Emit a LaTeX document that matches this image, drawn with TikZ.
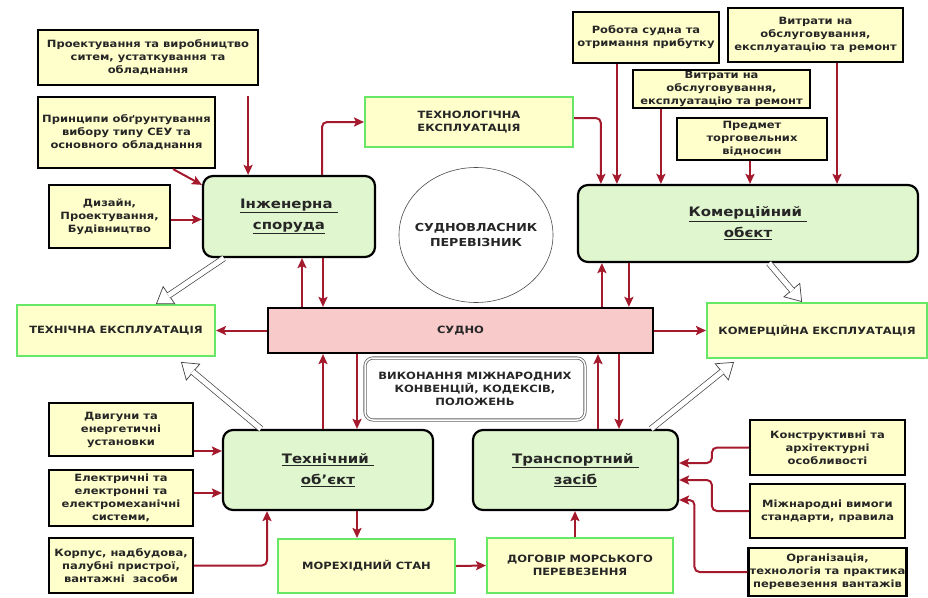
\documentclass[tikz,border=0pt]{standalone}
\usepackage{fontspec}
\setmainfont{DejaVu Sans}[FakeStretch=1.15]
\usetikzlibrary{arrows.meta, shapes.geometric}
\definecolor{boxyellow}{RGB}{255,255,204}
\definecolor{objgreen}{RGB}{224,246,206}
\definecolor{linegreen}{RGB}{102,232,102}
\definecolor{arrowred}{RGB}{165,25,45}
\definecolor{shippink}{RGB}{248,202,202}
\tikzset{
  infobox/.style={draw=black, line width=2.2pt, fill=boxyellow, align=center, inner sep=1pt,
    text=black!85, font=\fontsize{10}{13}\selectfont\bfseries},
  greenbox/.style={draw=linegreen, line width=2pt, fill=boxyellow, align=center, inner sep=1pt,
    text=black!85, font=\fontsize{10}{13}\selectfont\bfseries},
  objbox/.style={draw=black, line width=2.2pt, fill=objgreen, rounded corners=10pt, align=center,
    text=black!85, font=\fontsize{13}{21}\selectfont\bfseries},
  conn/.style={draw=arrowred, line width=2pt, rounded corners=5pt,
    -{Stealth[length=10pt, width=9pt, inset=2pt]}},
  hollowtip/.style={draw=black!75, line width=0.7pt,
    -{Triangle[open, fill=white, length=16pt, width=22pt]}},
  hollow/.style={draw=black!75, line width=0.7pt, double=white, double distance=5pt, shorten >=15pt}
}
\begin{document}
\begin{tikzpicture}[x=1pt, y=-1pt]
\fill [white] (0, 0) rectangle (928, 597);
\useasboundingbox (0, 0) rectangle (928, 597);

\node [infobox, minimum width=220pt, minimum height=55pt] (proekt) at (148, 57.5) {Проектування та виробництво\\ситем, устаткування та\\обладнання};
\node [infobox, minimum width=177pt, minimum height=71pt] (pryntsyp) at (126.5, 132.5) {Принципи обґрунтування\\вибору типу СЕУ та\\основного обладнання};
\node [infobox, minimum width=121pt, minimum height=63pt] (dyzain) at (109.5, 216.5) {Дизайн,\\Проектування,\\Будівництво};
\node [objbox, minimum width=172pt, minimum height=81pt] (inzh) at (289, 216.5) {\underline{Інженерна\ }\\\underline{споруда}};
\node [greenbox, minimum width=208pt, minimum height=50pt] (tehnol) at (469, 122) {ТЕХНОЛОГІЧНА\\ЕКСПЛУАТАЦІЯ};
\node [ellipse, draw=black!70, line width=0.6pt, minimum width=154pt, minimum height=135pt] (vlasnyk) at (476, 235) {};
\node [align=center, text=black!85, font=\fontsize{11}{15}\selectfont\bfseries] (vlasnyktext) at (vlasnyk) {СУДНОВЛАСНИК\\ПЕРЕВІЗНИК};

\node [infobox, minimum width=146pt, minimum height=51pt] (robota) at (646, 37.5) {Робота судна та\\отримання прибутку};
\node [infobox, minimum width=175pt, minimum height=54pt] (vytraty) at (815.5, 35) {Витрати на\\обслуговування,\\експлуатацію та ремонт};
\node [infobox, minimum width=177pt, minimum height=38pt] (remont) at (721.5, 89) {Витрати на\\обслуговування,\\експлуатацію та ремонт};
\node [infobox, minimum width=150pt, minimum height=42pt] (predmet) at (752, 139) {Предмет\\торговельних\\відносин};
\node [objbox, minimum width=340pt, minimum height=77pt] (komerc) at (748, 223.5) {\underline{Комерційний\ }\\\underline{обєкт}};

\node [infobox, draw=black, fill=shippink, minimum width=385pt, minimum height=45pt] (sudno) at (460.5, 330.5) {СУДНО};
\node [greenbox, minimum width=198pt, minimum height=51pt] (tehexp) at (116, 330.5) {ТЕХНІЧНА ЕКСПЛУАТАЦІЯ};
\node [greenbox, minimum width=220pt, minimum height=55pt] (komexp) at (817, 330.5) {КОМЕРЦІЙНА ЕКСПЛУАТАЦІЯ};
\node [draw=black!60, line width=0.8pt, double=white, double distance=1.5pt, fill=white, rounded corners=8pt,
  minimum width=220pt, minimum height=62pt, align=center, text=black!85,
  font=\fontsize{10}{13}\selectfont\bfseries] (konv) at (475, 389) {ВИКОНАННЯ МІЖНАРОДНИХ\\КОНВЕНЦІЙ, КОДЕКСІВ,\\ПОЛОЖЕНЬ};

\node [infobox, minimum width=144pt, minimum height=53pt] (dvyguny) at (121, 429.5) {Двигуни та\\енергетичні\\установки};
\node [infobox, minimum width=144pt, minimum height=56pt] (elektr) at (121, 498) {Електричні та\\електронні та\\електромеханічні\\системи,};
\node [infobox, minimum width=144pt, minimum height=55pt] (korpus) at (121, 565.5) {Корпус, надбудова,\\палубні пристрої,\\вантажні\ \ засоби};
\node [objbox, minimum width=210pt, minimum height=80pt] (tehnich) at (328, 470) {\underline{Технічний\ }\\\underline{об'єкт}};
\node [greenbox, minimum width=177pt, minimum height=54pt] (morehid) at (366.5, 566) {МОРЕХІДНИЙ СТАН};
\node [greenbox, minimum width=186pt, minimum height=55pt] (dogovir) at (580, 565.5) {ДОГОВІР МОРСЬКОГО\\ПЕРЕВЕЗЕННЯ};
\node [objbox, minimum width=205pt, minimum height=80pt] (transp) at (575.5, 470) {\underline{Транспортний\ }\\\underline{засіб}};
\node [infobox, minimum width=155pt, minimum height=55pt] (konstr) at (827.5, 447.5) {Конструктивні та\\архітектурні\\особливості};
\node [infobox, minimum width=155pt, minimum height=54pt] (vymogy) at (827.5, 511) {Міжнародні вимоги\\стандарти, правила};
\node [infobox, minimum width=155pt, minimum height=48pt] (orgkn) at (827.5, 572) {Організація,\\технологія та практика\\перевезення вантажів};

\draw [conn, shorten <=10pt] ([xshift=-11pt]proekt.south east) -- ([xshift=-11pt]proekt.south east |- inzh.north);
\draw [conn] ([xshift=-43pt]pryntsyp.south east) -- ([yshift=-10pt]inzh.north west);
\draw [conn] ([yshift=-3pt]dyzain.east) -- ([yshift=-3pt]dyzain.east -| inzh.west);
\draw [conn] ([xshift=33pt]inzh.north) |- (tehnol.west);
\draw [conn] ([yshift=4pt]tehnol.east) -| ([xshift=24pt]komerc.north west);
\draw [conn] ([xshift=45pt]robota.south west) -- ([xshift=45pt]robota.south west |- komerc.north);
\draw [conn] ([xshift=29pt]remont.south west) -- ([xshift=29pt]remont.south west |- komerc.north);
\draw [conn] ([xshift=-2pt]predmet.south) -- ([xshift=-2pt]predmet.south |- komerc.north);
\draw [conn] ([xshift=21.5pt]vytraty.south) -- ([xshift=21.5pt]vytraty.south |- komerc.north);

\draw [conn] ([xshift=13pt]inzh.south |- sudno.north) -- ([xshift=13pt]inzh.south);
\draw [conn] ([xshift=34pt]inzh.south) -- ([xshift=34pt]inzh.south |- sudno.north);
\draw [conn] ([xshift=25pt]komerc.south west |- sudno.north) -- ([xshift=25pt]komerc.south west);
\draw [conn] ([xshift=52pt]komerc.south west) -- ([xshift=52pt]komerc.south west |- sudno.north);
\draw [conn] ([xshift=-5pt]tehnich.north) -- ([xshift=-5pt]tehnich.north |- sudno.south);
\draw [conn] ([xshift=29pt]tehnich.north |- sudno.south) -- ([xshift=29pt]tehnich.north);
\draw [conn] ([xshift=22.5pt]transp.north) -- ([xshift=22.5pt]transp.north |- sudno.south);
\draw [conn] ([xshift=43.5pt]transp.north |- sudno.south) -- ([xshift=43.5pt]transp.north);
\draw [conn] (sudno.west) -- (tehexp.east);
\draw [conn] (sudno.east) -- (komexp.west);

\draw [hollowtip] ([xshift=22pt]inzh.south west) -- ([xshift=140pt]tehexp.north west);
\draw [hollow] ([xshift=22pt]inzh.south west) -- ([xshift=140pt]tehexp.north west);
\draw [hollowtip] ([xshift=39pt]tehnich.north west) -- ([xshift=165pt, yshift=-5pt]tehexp.south west);
\draw [hollow] ([xshift=39pt]tehnich.north west) -- ([xshift=165pt, yshift=-5pt]tehexp.south west);
\draw [hollowtip] ([xshift=192pt]komerc.south west) -- ([xshift=96pt]komexp.north west);
\draw [hollow] ([xshift=192pt]komerc.south west) -- ([xshift=96pt]komexp.north west);
\draw [hollowtip] ([xshift=-28pt]transp.north east) -- ([xshift=28pt, yshift=-3pt]komexp.south west);
\draw [hollow] ([xshift=-28pt]transp.north east) -- ([xshift=28pt, yshift=-3pt]komexp.south west);

\draw [conn] ([yshift=-21.5pt]dvyguny.east) -- ([yshift=-21.5pt]dvyguny.east -| tehnich.west);
\draw [conn] ([yshift=5pt]elektr.east) -- ([yshift=5pt]elektr.east -| tehnich.west);
\draw [conn] (korpus.east) -| ([xshift=-61pt]tehnich.south);
\draw [conn] ([xshift=29pt]tehnich.south) -- ([xshift=29pt]tehnich.south |- morehid.north);
\draw [conn] (morehid.east) -- (dogovir.west);
\draw [conn] ([xshift=-0.5pt]dogovir.north -| transp.south) -- ([xshift=-0.5pt]transp.south);
\draw [conn] (konstr.west) -- ++(-37, 0) |- ([yshift=7pt]transp.east);
\draw [conn] (vymogy.west) -- ++(-37, 0) |- ([yshift=-10pt]transp.east);
\draw [conn] (orgkn.west) -- ++(-53, 0) |- ([yshift=-30pt]transp.east);
\end{tikzpicture}
\end{document}
